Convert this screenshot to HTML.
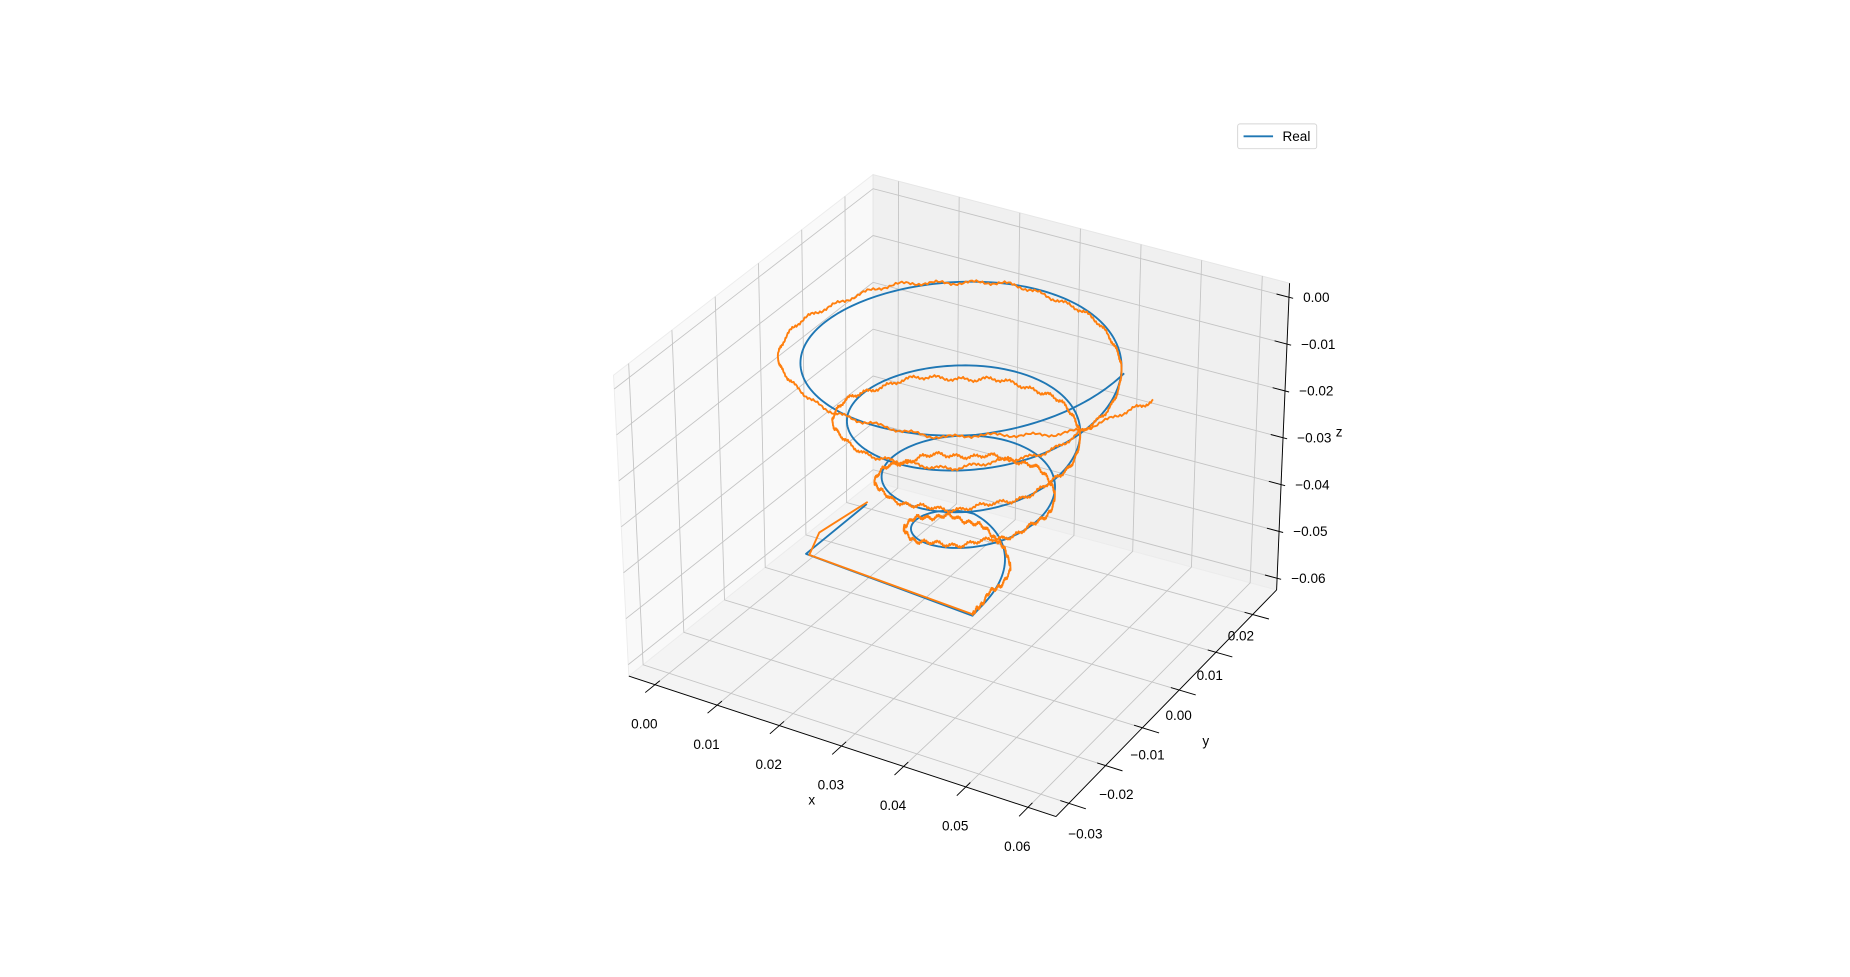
<!DOCTYPE html>
<html><head><meta charset="utf-8"><style>
html,body{margin:0;padding:0;background:#fff;}
svg{display:block;font-family:"Liberation Sans","DejaVu Sans",sans-serif;}
</style></head><body>
<svg id="chart" width="1850" height="977" viewBox="0 0 1568 828" preserveAspectRatio="none" xmlns="http://www.w3.org/2000/svg">
<g id="panes"></g>
<g id="grid"></g>
<g id="axes"></g>
<g id="series"></g>
<g>
<rect x="1049" y="105" width="67" height="21" rx="2" fill="#fff" stroke="#d5d5d5" stroke-width="0.8"/>
<line x1="1054" y1="115.5" x2="1079" y2="115.5" stroke="#1f77b4" stroke-width="1.6"/>
<text x="1087" y="119.5" font-size="11.5" fill="#000">Real</text>
</g>
<text x="688" y="682" font-size="11.5" text-anchor="middle">x</text>
<text x="1022" y="632" font-size="11.5" text-anchor="middle">y</text>
<text x="1135" y="370" font-size="11.5" text-anchor="middle">z</text>
</svg>
<script>
// axis limits and ticks
const xLim = [-0.0042, 0.0645];
const yLim = [-0.0335, 0.0265];
const zLim = [-0.0625, 0.003];
const xTicks = [0, 0.01, 0.02, 0.03, 0.04, 0.05, 0.06];
const yTicks = [-0.03, -0.02, -0.01, 0, 0.01, 0.02];
const zTicks = [-0.06, -0.05, -0.04, -0.03, -0.02, -0.01, 0];
const xTickLabels = ["0.00","0.01","0.02","0.03","0.04","0.05","0.06"];
const yTickLabels = ["\u22120.03","\u22120.02","\u22120.01","0.00","0.01","0.02"];
const zTickLabels = ["\u22120.06","\u22120.05","\u22120.04","\u22120.03","\u22120.02","\u22120.01","0.00"];
// helix (Real) keyframes per turn
const helixCenter = [0.0302, 0.0];
const helixTurn = [0, 0.5, 1, 2, 3, 4, 4.15];
const helixR = [0.002, 0.0064, 0.0105, 0.0132, 0.0184, 0.0247, 0.0247];
const helixZ = [-0.058, -0.0432, -0.036, -0.026, -0.0125, 0.0005, 0.003];
const realLeadX = [0.004, 0.004];
const realLeadY = [0.013, -0.002];
const realLeadZ = [-0.055, -0.055];
const estLeadX = [0.0045, 0.0042, 0.0042];
const estLeadY = [0.0125, 0.001, -0.0015];
const estLeadZ = [-0.054, -0.0525, -0.0555];
// estimated trajectory deviations, sampled every 1/8 turn
const estDZ = [0,0.001,0,-0.001,-0.002,-0.001,0,0.001,0.001, 0,-0.002,-0.003,-0.0045,-0.003,-0.001,0,0.001, 0,-0.001,-0.002,-0.003,-0.002,0,0.001,0.001, 0,-0.001,-0.001,-0.001,0,0.001,0.001,0, -0.005,-0.014];
const estDR = [0,0,0.001,0,0,0,0.001,0.001,0,0,0,0,0,0,0.001,0,0,0,0,0,0,0.001,0.002,0.001,0,0,0,0,0.001,0.002,0.003,0.001,0,0.002,0.002];

const A=[533,573],B=[895,692],C=[1082,500],D=[740,408];
const At=[520,318],Bt=[905,433],Ct=[1093,240],Dt=[740,148];
function bil(p,q,r,s,u,v){return [p[0]+u*(q[0]-p[0])+v*(s[0]-p[0])+u*v*(p[0]-q[0]-s[0]+r[0]), p[1]+u*(q[1]-p[1])+v*(s[1]-p[1])+u*v*(p[1]-q[1]-s[1]+r[1])];}
function P(x,y,z){
  const u=(x-xLim[0])/(xLim[1]-xLim[0]), v=(y-yLim[0])/(yLim[1]-yLim[0]), t=(z-zLim[0])/(zLim[1]-zLim[0]);
  const b=bil(A,B,C,D,u,v), tp=bil(At,Bt,Ct,Dt,u,v);
  return [b[0]+t*(tp[0]-b[0]), b[1]+t*(tp[1]-b[1])];
}
const NS="http://www.w3.org/2000/svg";
function mk(tag,attrs,parent){const e=document.createElementNS(NS,tag);for(const k in attrs)e.setAttribute(k,attrs[k]);parent.appendChild(e);return e;}
function pts(a){return a.map(p=>p[0].toFixed(2)+","+p[1].toFixed(2)).join(" ");}
const panes=document.getElementById('panes'),grid=document.getElementById('grid'),axes=document.getElementById('axes'),series=document.getElementById('series');
const [x0,x1]=xLim,[y0,y1]=yLim,[z0,z1]=zLim;
let e;
e=mk('polygon',{points:pts([P(x0,y0,z0),P(x0,y1,z0),P(x0,y1,z1),P(x0,y0,z1)]),fill:'#f9f9f9',stroke:'#ececec','stroke-width':0.8},panes);


e=mk('polygon',{points:pts([P(x0,y1,z0),P(x1,y1,z0),P(x1,y1,z1),P(x0,y1,z1)]),fill:'#f0f0f0',stroke:'#e6e6e6','stroke-width':0.8},panes);


e=mk('polygon',{points:pts([P(x0,y0,z0),P(x1,y0,z0),P(x1,y1,z0),P(x0,y1,z0)]),fill:'#f4f4f4',stroke:'#ececec','stroke-width':0.8},panes);


const gs={stroke:'#c4c4c4','stroke-width':0.75,fill:'none'};
function gl(pa,name){const l=mk('polyline',Object.assign({points:pts(pa)},gs),grid);

}
xTicks.forEach(x=>{gl([P(x,y0,z0),P(x,y1,z0),P(x,y1,z1)],'x-gridline');});
yTicks.forEach(y=>{gl([P(x1,y,z0),P(x0,y,z0),P(x0,y,z1)],'y-gridline');});
zTicks.forEach(z=>{gl([P(x0,y0,z),P(x0,y1,z),P(x1,y1,z)],'z-gridline');});
function al(a,b,name){const l=mk('line',{x1:a[0],y1:a[1],x2:b[0],y2:b[1],stroke:'#000','stroke-width':0.8},axes);

}
al(P(x0,y0,z0),P(x1,y0,z0),'x-axis-line');
al(P(x1,y0,z0),P(x1,y1,z0),'y-axis-line');
al(P(x1,y1,z0),P(x1,y1,z1),'z-axis-line');
const yr=y1-y0,xr=x1-x0;
xTicks.forEach((x,i)=>{al(P(x,y0+0.02*yr,z0),P(x,y0-0.04*yr,z0),'x-tick');
 const p=P(x,y0,z0);const t=mk('text',{x:p[0]-9,y:p[1]+37,'font-size':11.5,'text-anchor':'middle'},axes);t.textContent=xTickLabels[i];
 
 });
yTicks.forEach((y,i)=>{al(P(x1-0.02*xr,y,z0),P(x1+0.04*xr,y,z0),'y-tick');
 const p=P(x1,y,z0);const f=i/(yTicks.length-1);
 const t=mk('text',{x:p[0]+14-24*f,y:p[1]+30-8*f,'font-size':11.5,'text-anchor':'middle'},axes);t.textContent=yTickLabels[i];
 
 });
zTicks.forEach((z,i)=>{al(P(x1-0.03*xr,y1,z),P(x1+0.01*xr,y1,z),'z-tick');
 const p=P(x1,y1,z);const t=mk('text',{x:p[0]+12,y:p[1]+4,'font-size':11.5},axes);t.textContent=zTickLabels[i];
 
 });

function interp(xs,ys,s){for(let i=0;i<xs.length-1;i++){if(s<=xs[i+1]){const f=(s-xs[i])/(xs[i+1]-xs[i]);return ys[i]+f*(ys[i+1]-ys[i]);}}return ys[ys.length-1];}
const theta0=-58*Math.PI/180;
const sEnd=helixTurn[helixTurn.length-1];
function helixPt(s,dr,dz){const r=interp(helixTurn,helixR,s)+dr,z=interp(helixTurn,helixZ,s)+dz,th=theta0+s*2*Math.PI;
 return P(helixCenter[0]+r*Math.cos(th),helixCenter[1]+r*Math.sin(th),z);}
// Real
const real=[];
for(let i=0;i<realLeadX.length;i++)real.push(P(realLeadX[i],realLeadY[i],realLeadZ[i]));
for(let s=0;s<=sEnd+1e-9;s+=0.005)real.push(helixPt(s,0,0));
const sampS=estDZ.map((_,i)=>i/8);
// Estimated (noisy)
const est=[];
for(let i=0;i<estLeadX.length;i++)est.push(P(estLeadX[i],estLeadY[i],estLeadZ[i]));
let k=0;
const estEnd=sEnd+0.03;
for(let s=0;s<=estEnd+1e-9;s+=0.002){k++;
 const w=0.00035*(0.6*Math.sin(k*2.3)+Math.sin(k*0.37)+0.9*Math.sin(k*0.113));
 const p=helixPt(s,interp(sampS,estDR,s),interp(sampS,estDZ,s)+w);
 est.push(p);}
const le=mk('polyline',{points:pts(est),fill:'none',stroke:'#ff7f0e','stroke-width':1.6,'stroke-linejoin':'round'},series);


const lr=mk('polyline',{points:pts(real),fill:'none',stroke:'#1f77b4','stroke-width':1.6,'stroke-linejoin':'round'},series);


series.appendChild(le);
</script>
</body></html>
